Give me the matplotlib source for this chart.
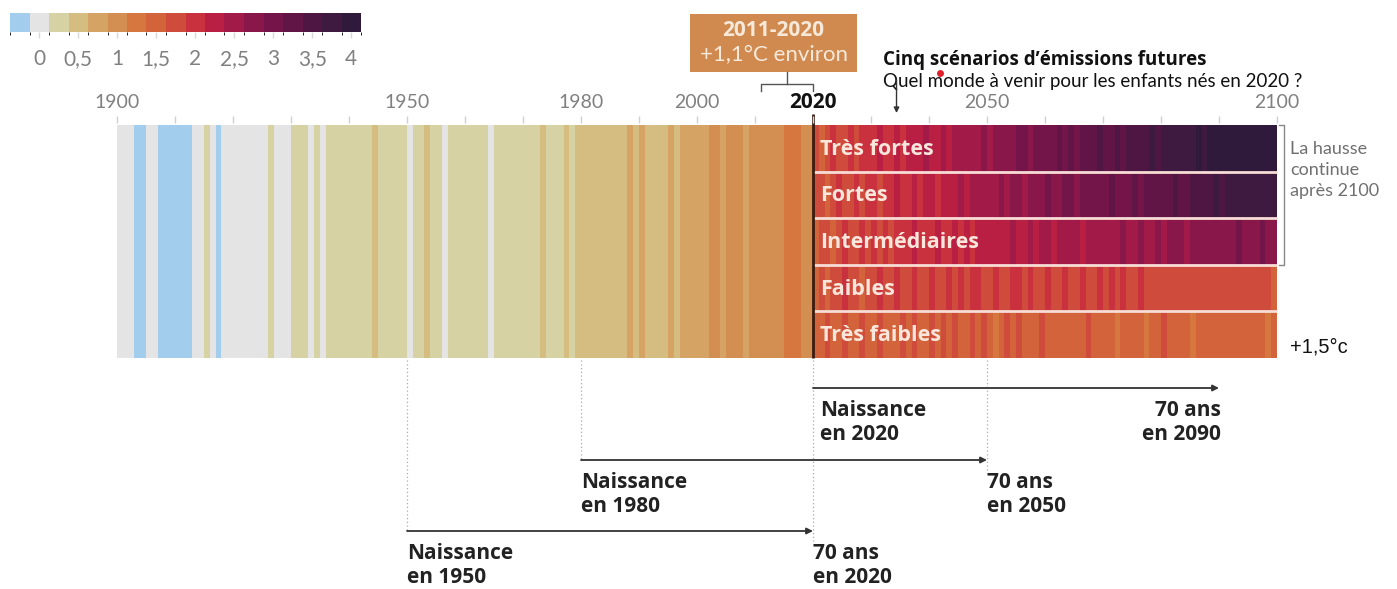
"""
Warming stripes: observed anomaly 1900-2019 and five emission scenarios to 2100.
"""

import numpy as np
import matplotlib
matplotlib.use("Agg")
import matplotlib.pyplot as plt
from matplotlib.colors import ListedColormap, BoundaryNorm
from matplotlib.cm import ScalarMappable
from matplotlib.patches import Rectangle

plt.rcParams["font.family"] = ["Open Sans", "DejaVu Sans"]

# ---------------------------------------------------------------- data
# colour classes (°C anomaly, 0.25 steps, centred on the value)
class_levels = [-0.25, 0, 0.25, 0.5, 0.75, 1.0, 1.25, 1.5, 1.75, 2.0,
                2.25, 2.5, 2.75, 3.0, 3.25, 3.5, 3.75, 4.0]
class_colors = ["#a3cdec", "#e4e4e4", "#d6d2a4", "#d5bd81", "#d5a465", "#d38e52",
                "#d5773f", "#d2633b", "#cf4c3c", "#c9313f", "#b81f43", "#a11a48",
                "#8a1749", "#741549", "#601546", "#4e1743", "#3e1a40", "#301a3b"]
cbar_ticks = [0, 0.5, 1, 1.5, 2, 2.5, 3, 3.5, 4]
cbar_labels = ["0", "0,5", "1", "1,5", "2", "2,5", "3", "3,5", "4"]

hist_start = 1900
hist_anom = [
    0, 0, 0, -0.25, -0.25, 0, 0, -0.25, -0.25, -0.25,            # 1900s
    -0.25, -0.25, -0.25, 0, 0, 0.25, 0, -0.25, 0, 0,             # 1910s
    0, 0, 0, 0, 0, 0, 0.25, 0, 0, 0,                              # 1920s
    0.25, 0.25, 0.25, 0, 0.25, 0, 0.25, 0.25, 0.25, 0.25,        # 1930s
    0.25, 0.25, 0.25, 0.25, 0.5, 0.25, 0.25, 0.25, 0.25, 0.25,   # 1940s
    0, 0.25, 0.25, 0.5, 0.25, 0.25, 0, 0.25, 0.25, 0.25,         # 1950s
    0.25, 0.25, 0.25, 0.25, 0, 0.25, 0.25, 0.25, 0.25, 0.25,     # 1960s
    0.25, 0.25, 0.25, 0.5, 0.25, 0.25, 0.25, 0.5, 0.25, 0.5,     # 1970s
    0.5, 0.5, 0.5, 0.5, 0.5, 0.5, 0.5, 0.5, 0.75, 0.5,           # 1980s
    0.75, 0.5, 0.5, 0.5, 0.5, 0.75, 0.5, 0.75, 0.75, 0.75,       # 1990s
    0.75, 0.75, 1.0, 1.0, 0.75, 1.0, 1.0, 1.0, 0.75, 1.0,        # 2000s
    1.0, 1.0, 1.0, 1.0, 1.0, 1.25, 1.25, 1.25, 1.0, 1.0,         # 2010s
]

scen_start = 2020
scen_names = ["Très fortes", "Fortes", "Intermédiaires", "Faibles", "Très faibles"]
scen_tres_fortes = [
    1.75, 1.5, 1.75, 2.0, 1.75, 1.75, 2.0, 1.75, 2.0, 2.0,
    2.0, 2.25, 2.0, 2.0, 2.25, 2.0, 2.25, 2.25, 2.25, 2.5,
    2.25, 2.25, 2.5, 2.25, 2.5, 2.5, 2.5, 2.5, 2.5, 2.75,
    2.5, 2.75, 2.75, 2.75, 2.75, 3.0, 3.0, 2.75, 3.0, 3.0,
    3.0, 3.0, 3.25, 3.0, 3.25, 3.0, 3.25, 3.25, 3.25, 3.5,
    3.25, 3.25, 3.5, 3.25, 3.5, 3.5, 3.5, 3.5, 3.75, 3.5,
    3.75, 3.75, 3.75, 3.75, 3.75, 3.75, 4.0, 3.75, 4.0, 4.0,
    4.0, 4.0, 4.0, 4.0, 4.0, 4.0, 4.0, 4.0, 4.0, 4.0,
]
scen_fortes = [
    1.75, 1.75, 1.5, 1.75, 2.0, 1.75, 1.75, 2.0, 1.75, 2.0,
    2.0, 1.75, 2.0, 2.0, 2.25, 2.0, 2.0, 2.25, 2.0, 2.25,
    2.25, 2.0, 2.25, 2.25, 2.25, 2.5, 2.25, 2.5, 2.5, 2.5,
    2.5, 2.5, 2.75, 2.5, 2.75, 2.75, 2.5, 2.75, 2.75, 2.75,
    3.0, 2.75, 2.75, 3.0, 3.0, 2.75, 3.0, 3.0, 3.0, 3.0,
    3.0, 3.25, 3.0, 3.0, 3.0, 3.25, 3.0, 3.25, 3.25, 3.25,
    3.25, 3.25, 3.5, 3.25, 3.25, 3.5, 3.5, 3.5, 3.5, 3.75,
    3.5, 3.75, 3.75, 3.75, 3.75, 3.75, 3.75, 3.75, 3.75, 3.75,
]
scen_intermediaires = [
    1.5, 1.75, 1.75, 1.5, 1.75, 2.0, 1.75, 1.75, 2.0, 1.75,
    2.0, 1.75, 2.0, 1.75, 2.0, 2.0, 2.0, 2.25, 2.0, 2.0,
    2.0, 2.25, 2.0, 2.0, 2.25, 2.0, 2.25, 2.0, 2.25, 2.25,
    2.25, 2.25, 2.25, 2.25, 2.5, 2.25, 2.25, 2.5, 2.25, 2.5,
    2.5, 2.25, 2.5, 2.5, 2.5, 2.5, 2.25, 2.5, 2.5, 2.5,
    2.5, 2.5, 2.5, 2.75, 2.5, 2.5, 2.75, 2.5, 2.5, 2.75,
    2.5, 2.75, 2.75, 2.75, 2.5, 2.75, 2.75, 2.75, 2.75, 2.75,
    2.75, 2.75, 2.75, 3.0, 2.75, 2.75, 2.75, 3.0, 2.75, 2.75,
]
scen_faibles = [
    1.5, 1.75, 1.5, 1.75, 1.75, 2.0, 1.75, 1.75, 1.5, 1.75,
    1.75, 2.0, 1.75, 1.75, 2.0, 1.75, 1.75, 2.0, 1.75, 1.75,
    2.0, 1.75, 1.75, 2.0, 1.75, 2.0, 1.75, 2.0, 2.0, 1.75,
    1.75, 2.0, 1.75, 1.75, 2.0, 2.0, 1.75, 2.0, 1.75, 1.75,
    2.0, 1.75, 1.75, 2.0, 1.75, 1.75, 2.0, 1.75, 1.75, 2.0,
    1.75, 2.0, 1.75, 2.0, 1.75, 1.75, 2.0, 1.75, 1.75, 1.75,
    1.75, 1.75, 1.75, 1.75, 1.75, 1.75, 1.75, 1.75, 1.75, 1.75,
    1.75, 1.75, 1.75, 1.75, 1.75, 1.75, 1.75, 1.75, 1.75, 1.5,
]
scen_tres_faibles = [
    1.5, 1.5, 1.75, 1.5, 1.5, 1.75, 1.5, 1.5, 1.75, 1.5,
    1.5, 1.75, 1.5, 1.5, 1.5, 1.75, 1.5, 1.75, 1.5, 1.5,
    1.75, 1.5, 1.75, 1.5, 1.75, 1.5, 1.5, 1.75, 1.5, 1.75,
    1.5, 1.25, 1.5, 1.75, 1.5, 1.75, 1.5, 1.5, 1.5, 1.75,
    1.5, 1.5, 1.5, 1.5, 1.5, 1.5, 1.5, 1.75, 1.5, 1.5,
    1.5, 1.5, 1.25, 1.5, 1.5, 1.5, 1.5, 1.25, 1.5, 1.5,
    1.75, 1.5, 1.5, 1.5, 1.5, 1.25, 1.5, 1.5, 1.5, 1.5,
    1.5, 1.5, 1.5, 1.5, 1.5, 1.5, 1.5, 1.5, 1.25, 1.5,
]
scenarios = [scen_tres_fortes, scen_fortes, scen_intermediaires,
             scen_faibles, scen_tres_faibles]

axis_years = [1900, 1950, 1980, 2000, 2020, 2050, 2100]
# (birth year, 70th birthday, arrow row y in px)
lifespans = [(2020, 2090, 388), (1980, 2050, 460), (1950, 2020, 531)]

# ---------------------------------------------------------------- layout
W, H = 1397, 589
PX_PER_YEAR = 5.8
X_1900 = 117
BAR_TOP, BAR_BOT = 125, 358

cmap = ListedColormap(class_colors)
bounds = np.arange(-0.375, 4.126, 0.25)
norm = BoundaryNorm(bounds, cmap.N)

fig = plt.figure(figsize=(W / 100, H / 100), dpi=100)
ax = fig.add_axes([0, 0, 1, 1])
ax.set_xlim(1900 - X_1900 / PX_PER_YEAR, 1900 + (W - X_1900) / PX_PER_YEAR)
ax.set_ylim(H, 0)
ax.axis("off")

# observed stripes
hist_edges = np.arange(hist_start, hist_start + len(hist_anom) + 1)
ax.pcolormesh(hist_edges, [BAR_TOP, BAR_BOT], np.array([hist_anom]),
              cmap=cmap, norm=norm, shading="flat", antialiased=False)

# scenario stripes
row_h = (BAR_BOT - BAR_TOP) / len(scenarios)
for i, (name, vals) in enumerate(zip(scen_names, scenarios)):
    y0 = BAR_TOP + i * row_h
    edges = np.arange(scen_start, scen_start + len(vals) + 1)
    ax.pcolormesh(edges, [y0, y0 + row_h], np.array([vals]),
                  cmap=cmap, norm=norm, shading="flat", antialiased=False)
    ax.text(2021.2, y0 + row_h / 2 + 1, name, color="#fbe6dc", fontsize=15.5,
            fontweight="bold", va="center", ha="left")
    if i > 0:
        ax.hlines(y0, scen_start, 2100, color="#f7ddd6", lw=2)

ax.vlines(2020, 114, BAR_BOT, color="#3a1c12", lw=2)

# decade ticks and year labels
ax.vlines(np.arange(1900, 2101, 10), 116, 123, color="#d0d0d0", lw=1)
for yr in axis_years:
    bold = yr == 2020
    ax.text(yr, 103, str(yr), ha="center", va="center",
            fontsize=15 if bold else 14, fontweight="bold" if bold else "normal",
            color="#111111" if bold else "#808080",
            family=["Open Sans", "DejaVu Sans"] if bold else ["Lato", "DejaVu Sans"])

# 2011-2020 box
box_l, box_r = 1998.8, 2027.6
ax.add_patch(Rectangle((box_l, 14), box_r - box_l, 58, color="#d08a50", lw=0))
ax.text((box_l + box_r) / 2, 30, "2011-2020", ha="center", va="center",
        fontsize=15, fontweight="bold", color="#f6e9da")
ax.text((box_l + box_r) / 2, 55, "+1,1°C environ", ha="center", va="center",
        fontsize=16, color="#f6e9da", family=["Lato", "DejaVu Sans"])
ax.plot([2011, 2011, 2020, 2020], [91, 84, 84, 91], color="#555555", lw=1)
ax.plot([2015.5, 2015.5], [72, 84], color="#555555", lw=1)

# scenarios header
ax.text(2032.1, 60, "Cinq scénarios d’émissions futures", ha="left", va="center",
        fontsize=13.5, fontweight="bold", color="#111111")
ax.text(2032.1, 82, "Quel monde à venir pour les enfants nés en 2020 ?",
        ha="left", va="center", fontsize=13.5, color="#111111",
        family=["Lato", "DejaVu Sans"])
ax.annotate("", xy=(2034.4, 113), xytext=(2034.4, 80),
            arrowprops=dict(arrowstyle="-|>", color="#333333", lw=1,
                            mutation_scale=8, shrinkA=0, shrinkB=0))
ax.plot([2041.9], [73], marker="o", ms=5, color="#e0202a", mec="none")

# right-hand notes
ax.plot([2100.4, 2101.2, 2101.2, 2100.4], [BAR_TOP, BAR_TOP, 265, 265],
        color="#888888", lw=1)
ax.text(2102.3, 170, "La hausse\ncontinue\naprès 2100", ha="left", va="center",
        fontsize=13, color="#707070", linespacing=1.38,
        family=["Lato", "DejaVu Sans"])
ax.text(2102.3, 347, "+1,5°c", ha="left", va="center", fontsize=14.5,
        color="#111111", family=["Liberation Sans", "DejaVu Sans"])

# lifespan arrows
for born, seventy, y in lifespans:
    ax.annotate("", xy=(seventy, y), xytext=(born, y),
                arrowprops=dict(arrowstyle="-|>", color="#333333", lw=1.3,
                                mutation_scale=9, shrinkA=0, shrinkB=0))
    if born != 2020:
        ax.vlines(born, BAR_BOT + 2, y, color="#aaaaaa", lw=0.9, linestyles=(0, (1, 2)))
    if seventy != 2090:
        ax.vlines(seventy, BAR_BOT + 2, y + 10, color="#aaaaaa", lw=0.9,
                  linestyles=(0, (1, 2)))
    lab_x = born + 1.2 if born == 2020 else born
    ax.text(lab_x, y + 12, f"Naissance\nen {born}", ha="left", va="top",
            fontsize=15, fontweight="bold", color="#222222", linespacing=1.2)
    ha = "right" if seventy == 2090 else "left"
    ax.text(seventy + (0.3 if ha == "right" else 0), y + 12,
            f"70 ans\nen {seventy}", ha=ha, va="top", fontsize=15,
            fontweight="bold", color="#222222", linespacing=1.2)

# colour legend
cax = fig.add_axes([10 / W, 1 - 32 / H, 351 / W, 19 / H])
cb = fig.colorbar(ScalarMappable(norm=norm, cmap=cmap), cax=cax,
                  orientation="horizontal", ticks=cbar_ticks)
cb.outline.set_visible(False)
cb.ax.set_xticklabels(cbar_labels)
cb.ax.tick_params(length=4, width=1, color="#d8d8d8", pad=8,
                  labelsize=15, labelcolor="#808080")
for lab in cb.ax.get_xticklabels():
    lab.set_family(["Lato", "DejaVu Sans"])

fig.savefig("out.png", dpi=100, facecolor="white")
